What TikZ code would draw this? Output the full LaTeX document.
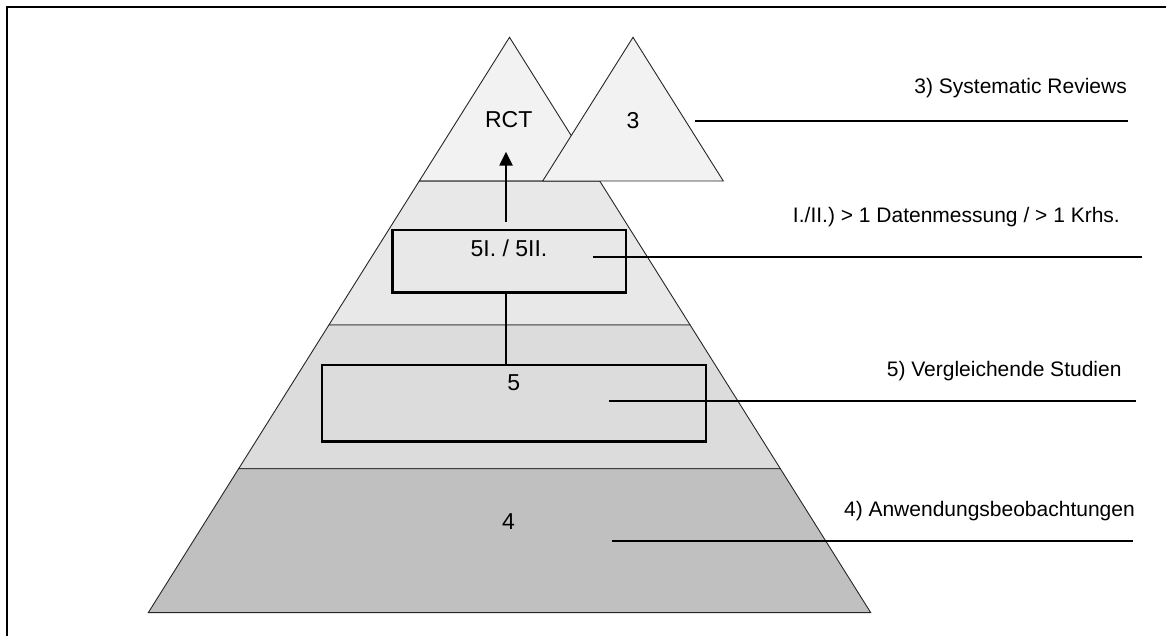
\documentclass[tikz,border=0pt]{standalone}
\usepackage{fontspec}
\setmainfont{Liberation Sans}
\usepackage{xcolor}
\usepackage{tikz}
\usetikzlibrary{calc,arrows.meta}
\definecolor{lvlA}{HTML}{F2F2F2}
\definecolor{lvlB}{HTML}{E8E8E8}
\definecolor{lvlC}{HTML}{DCDCDC}
\definecolor{lvlD}{HTML}{C0C0C0}
\tikzset{
  band/.style={draw=black!85, line width=0.9pt, line join=miter},
  frame/.style={draw=black, line width=2pt},
  box/.style={draw=black, line width=2.4pt, inner sep=0pt},
  link/.style={draw=black, line width=2.4pt},
  lvl/.style={text=black, font=\fontsize{23}{27}\selectfont, inner sep=0pt, anchor=base},
  lab/.style={text=black, font=\fontsize{21}{25}\selectfont, inner sep=0pt, anchor=base east},
}

\begin{document}
\begin{tikzpicture}[x=1pt,y=-1pt]
  \useasboundingbox (0,0) rectangle (1166,636);
  \draw[frame] (6.5,640) -- (6.5,7.5) -- (1170,7.5);
  % pyramid, four bands of equal height
  \coordinate (A) at (509.5,37.3);
  \coordinate (BL) at (148.3,612.6);
  \coordinate (BR) at (870.7,612.6);
  \foreach \f/\g/\c in {0/0.25/lvlA, 0.25/0.5/lvlB, 0.5/0.75/lvlC, 0.75/1/lvlD}{
    \filldraw[band, fill=\c] ($(A)!\f!(BL)$) -- ($(A)!\g!(BL)$) -- ($(A)!\g!(BR)$) -- ($(A)!\f!(BR)$) -- cycle;
  }
  % second top triangle
  \coordinate (sA) at (633,37.3);
  \coordinate (sL) at (542.7,181);
  \coordinate (sR) at (723.3,181);
  \filldraw[band, fill=lvlA] (sA) -- (sL) -- (sR) -- cycle;
  % boxes
  \node[box, minimum width=233.3pt, minimum height=62.7pt] (b5i) at (509.3,261.3) {};
  \node[box, minimum width=384.3pt, minimum height=76.7pt] (b5) at (513.9,403.3) {};
  \node[lvl] (rct) at (508.7,128) {RCT};
  \node[lvl] (n3) at (633,128.3) {3};
  \node[lvl] (n5i) at (509,256) {5I. / 5II.};
  \node[lvl] (n5) at (513.8,390.7) {5};
  \node[lvl] (n4) at (508.5,529.3) {4};
  % vertical connectors
  \coordinate (axis) at (506,0);
  \coordinate (tip) at (506,151.7);
  \draw[link] (axis |- b5.north) -- (axis |- b5i.south);
  \draw[link, -{Triangle[length=14pt, width=13pt]}] ([yshift=7pt]axis |- b5i.north) -- (tip);
  % labels on the right
  \node[lab] (l3) at (1127,93.3) {3) Systematic Reviews};
  \node[lab] (l5i) at (1120,223) {I./II.) > 1 Datenmessung / > 1 Krhs.};
  \node[lab] (l5) at (1121.7,376.7) {5) Vergleichende Studien};
  \node[lab] (l4) at (1135,516.7) {4) Anwendungsbeobachtungen};
  \coordinate (r3a) at (695,121);    \coordinate (r3b) at (1128,121);
  \coordinate (r5ia) at (592.7,256.7); \coordinate (r5ib) at (1141.7,256.7);
  \coordinate (r5a) at (609,400.7);  \coordinate (r5b) at (1136,400.7);
  \coordinate (r4a) at (612,540.7);  \coordinate (r4b) at (1133,540.7);
  \draw[link] (r3a) -- (r3b);
  \draw[link] (r5ia) -- (r5ib);
  \draw[link] (r5a) -- (r5b);
  \draw[link] (r4a) -- (r4b);
\end{tikzpicture}
\end{document}
